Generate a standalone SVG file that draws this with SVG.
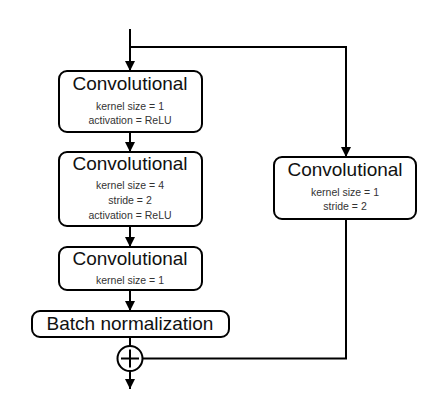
<svg xmlns="http://www.w3.org/2000/svg" width="436" height="419" viewBox="0 0 436 419">
<defs>
<marker id="ah" viewBox="0 0 10 10" refX="10" refY="5" markerWidth="5" markerHeight="5" orient="auto" markerUnits="strokeWidth">
<path d="M0,0 L10,5 L0,10 z" fill="#000"/>
</marker>
<style>
.box{fill:#fff;stroke:#000;stroke-width:2}
.t{font-family:"Liberation Sans",Arial,sans-serif;font-size:19px;fill:#111;text-anchor:middle}
.s{font-family:"Liberation Sans",Arial,sans-serif;font-size:10.5px;fill:#333;text-anchor:middle}
.ln{fill:none;stroke:#000;stroke-width:2}
</style>
</defs>
<rect width="436" height="419" fill="#fff"/>
<g id="connectors">
<line class="ln" x1="130" y1="29" x2="130" y2="71" marker-end="url(#ah)"/>
<polyline class="ln" points="130,47 346,47 346,157" marker-end="url(#ah)"/>
<line class="ln" x1="130" y1="132" x2="130" y2="152" marker-end="url(#ah)"/>
<line class="ln" x1="130" y1="226" x2="130" y2="247" marker-end="url(#ah)"/>
<line class="ln" x1="130" y1="290" x2="130" y2="311" marker-end="url(#ah)"/>
<line class="ln" x1="130" y1="337" x2="130" y2="346"/>
<polyline class="ln" points="346,219 346,358.5 142.5,358.5"/>
<line class="ln" x1="130" y1="371" x2="130" y2="389" marker-end="url(#ah)"/>
</g>
<g id="conv1">
<rect class="box" x="59" y="71" width="143" height="61" rx="8"/>
<text class="t" x="130" y="90">Convolutional</text>
<text class="s" x="130" y="110">kernel size = 1</text>
<text class="s" x="130" y="124">activation = ReLU</text>
</g>
<g id="conv2">
<rect class="box" x="59" y="152" width="143" height="74" rx="8"/>
<text class="t" x="130" y="170">Convolutional</text>
<text class="s" x="130" y="189">kernel size = 4</text>
<text class="s" x="130" y="204">stride = 2</text>
<text class="s" x="130" y="219">activation = ReLU</text>
</g>
<g id="conv3">
<rect class="box" x="59" y="247" width="143" height="43" rx="8"/>
<text class="t" x="130" y="265">Convolutional</text>
<text class="s" x="130" y="284">kernel size = 1</text>
</g>
<g id="batchnorm">
<rect class="box" x="32" y="311" width="197" height="26" rx="8"/>
<text class="t" x="130" y="330">Batch normalization</text>
</g>
<g id="conv_skip">
<rect class="box" x="274" y="157" width="142" height="62" rx="8"/>
<text class="t" x="345" y="176">Convolutional</text>
<text class="s" x="345" y="196">kernel size = 1</text>
<text class="s" x="345" y="210">stride = 2</text>
</g>
<g id="add">
<circle cx="130" cy="358.5" r="12.5" fill="#fff" stroke="#000" stroke-width="2"/>
<line class="ln" x1="121" y1="358.5" x2="139" y2="358.5"/>
<line class="ln" x1="130" y1="349.5" x2="130" y2="367.5"/>
</g>
</svg>
